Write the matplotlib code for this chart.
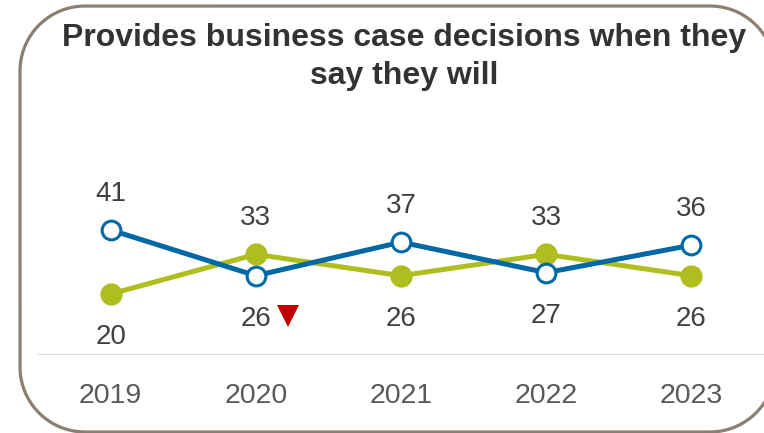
import numpy as np
import matplotlib
matplotlib.use("Agg")
import matplotlib.pyplot as plt
from matplotlib.patches import PathPatch
from matplotlib.path import Path
from matplotlib.transforms import offset_copy

years = ["2019", "2020", "2021", "2022", "2023"]
series_blue = [41, 26, 37, 27, 36]
series_green = [20, 33, 26, 33, 26]
decline_years = ["2020"]  # significant decline flagged with a red marker

BLUE = "#0068A5"
GREEN = "#AFBE1E"
RED = "#C00000"
TEXT = "#404040"

plt.rcParams["font.family"] = ["Liberation Sans", "DejaVu Sans"]

fig = plt.figure(figsize=(7.64, 4.33), dpi=100)
fig.patch.set_facecolor("white")


def rounded_rect(x0, y0, x1, y1, r, n=40):
    """Closed path of a rectangle with circular corners (inch units)."""
    pts = []
    corners = [((x1 - r, y0 + r), -90, 0), ((x1 - r, y1 - r), 0, 90),
               ((x0 + r, y1 - r), 90, 180), ((x0 + r, y0 + r), 180, 270)]
    for (cx, cy), a0, a1 in corners:
        t = np.radians(np.linspace(a0, a1, n))
        pts.extend(zip(cx + r * np.cos(t), cy + r * np.sin(t)))
    pts.append(pts[0])
    return Path(pts)


# rounded frame around the whole panel
frame = PathPatch(rounded_rect(0.20, 0.01, 7.75, 4.27, 0.65),
                  transform=fig.dpi_scale_trans, facecolor="none",
                  edgecolor="#8C7E70", linewidth=2.3, zorder=10)
fig.patches.append(frame)

fig.text(404 / 764, 1 - 38 / 433, "Provides business case decisions when they",
         ha="center", va="center", fontsize=23, fontweight="bold", color="#333333")
fig.text(404 / 764, 1 - 76 / 433, "say they will",
         ha="center", va="center", fontsize=23, fontweight="bold", color="#333333")

ax = fig.add_axes([38 / 764, 1 - 355 / 433, 1 - 38 / 764, 152.5 / 433])
x = list(range(len(years)))
ax.set_xlim(-0.5, 4.5)
ax.set_ylim(0, 50)

ax.plot(x, series_green, color=GREEN, lw=3.6, marker="o", ms=16,
        mfc=GREEN, mec=GREEN, mew=0, zorder=3, clip_on=False)
ax.plot(x, series_blue, color=BLUE, lw=3.6, marker="o", ms=13.5,
        mfc="white", mec=BLUE, mew=2.2, zorder=4, clip_on=False)

for i, (b, g) in enumerate(zip(series_blue, series_green)):
    hi, lo = (b, g) if b >= g else (g, b)
    ax.annotate(str(hi), (i, hi), xytext=(0, 26), textcoords="offset points",
                ha="center", va="center", fontsize=20, color=TEXT)
    ax.annotate(str(lo), (i, lo), xytext=(0, -31), textcoords="offset points",
                ha="center", va="center", fontsize=20, color=TEXT)
    if years[i] in decline_years:
        tr = offset_copy(ax.transData, fig=fig, x=23, y=-29, units="points")
        ax.plot([i], [b], marker="v", ms=16, color=RED, mew=0,
                transform=tr, clip_on=False, zorder=5)

ax.axhline(0, color="#D9D9D9", lw=1.5, zorder=1)
for s in ax.spines.values():
    s.set_visible(False)
ax.set_yticks([])
ax.set_xticks(x)
ax.set_xticklabels(years, fontsize=20.5, color="#595959")
ax.tick_params(axis="x", length=0, pad=20)

fig.savefig("out.png", dpi=100)
